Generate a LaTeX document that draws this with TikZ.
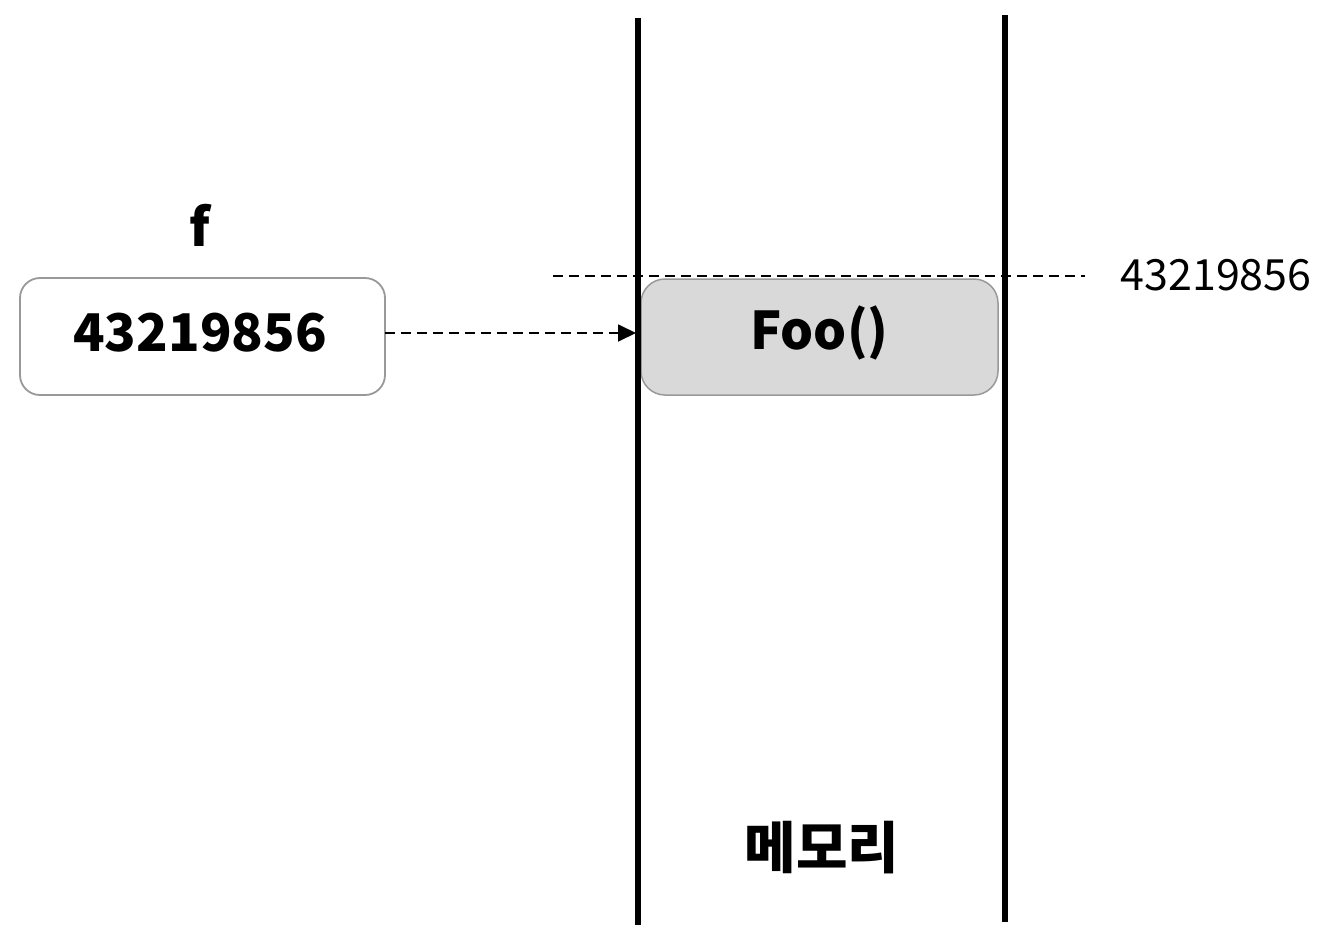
\documentclass[tikz,border=0pt]{standalone}
\usepackage{fontspec}
\setmainfont{Noto Sans CJK KR}
\usetikzlibrary{arrows.meta}
\tikzset{
  wall/.style={line width=5.5pt,black},
  valbox/.style={draw=black!40,line width=1.8pt,rounded corners=20pt,fill=white},
  objbox/.style={draw=black!40,line width=1.5pt,rounded corners=24pt,fill=black!15},
  bigtxt/.style={font=\fontsize{52}{56}\selectfont\bfseries},
  dashln/.style={line width=1.8pt,dash pattern=on 10pt off 6pt},
}
\begin{document}
\begin{tikzpicture}[x=1pt,y=-1pt]
\useasboundingbox (0,0) rectangle (1328,938);
\fill[white] (0,0) rectangle (1328,938);
% memory walls
\coordinate (w1t) at (638,18); \coordinate (w1b) at (638,925);
\coordinate (w2t) at (1005,15); \coordinate (w2b) at (1005,922);
% dashed address line
\coordinate (dl) at (553,276); \coordinate (dr) at (1085,276);
\draw[dashln] (dl) -- (dr);
% object box
\draw[objbox] (641,279) rectangle (998,395);
\node[bigtxt] (foo) at (819.5,333) {Foo()};
\draw[wall] (w1t) -- (w1b);
\draw[wall] (w2t) -- (w2b);
% variable
\draw[valbox] (20,278) rectangle (385,395);
\coordinate (vr) at (385,333);
\node[bigtxt] (val) at (200,333) {43219856};
\node[bigtxt] (f) at (200,225) {f};
\coordinate (ar) at (636,333);
\draw[dashln,-{Triangle[length=18pt,width=17pt]}] (vr) -- (ar);
% address label
\node[font=\fontsize{43}{48}\selectfont] (addr) at (1216,275) {43219856};
% memory label
\node[font=\fontsize{56}{60}\selectfont\bfseries] (mem) at (822,848) {메모리};
\end{tikzpicture}
\end{document}
